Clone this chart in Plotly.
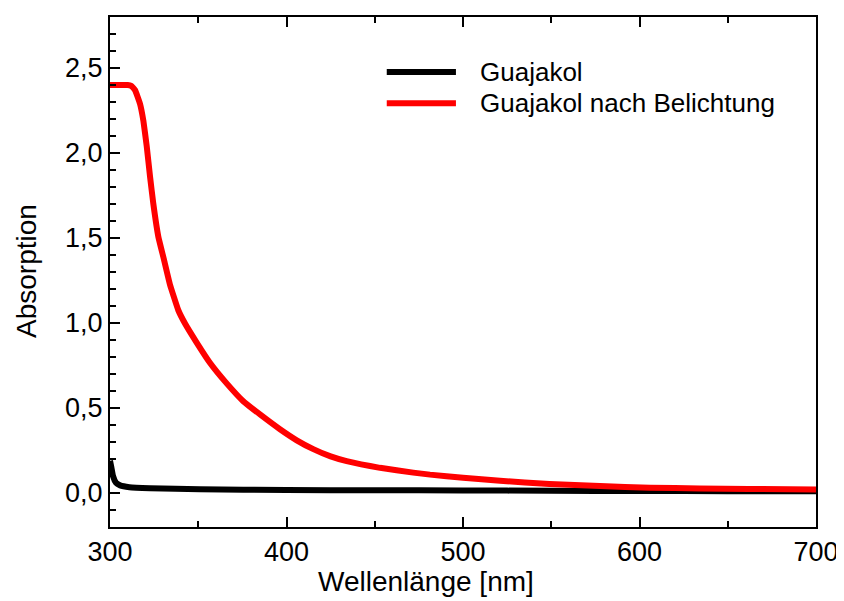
import plotly.graph_objects as go

# Data
wl_red = [300, 305, 310, 312, 314.2, 317, 318.9, 320.8, 322.7, 324.5, 327.4, 330.4, 334, 338.7,
          342.5, 349.1, 356.7, 366.1, 375.5, 385, 396.3, 405.8, 415.2, 425, 434.1, 453, 471.8,
          481.3, 500, 521, 549, 577.6, 606, 634, 662, 700]
abs_red = [2.40, 2.40, 2.40, 2.395, 2.37, 2.29, 2.19, 2.04, 1.86, 1.705, 1.507, 1.38, 1.225, 1.075,
           0.997, 0.885, 0.765, 0.645, 0.54, 0.462, 0.375, 0.31, 0.258, 0.215, 0.187, 0.148, 0.12,
           0.108, 0.09, 0.072, 0.053, 0.041, 0.031, 0.027, 0.024, 0.021]

wl_black = [300, 300.8, 301.7, 303.4, 305.7, 311, 322.7, 351, 400, 450, 500, 550, 600, 650, 700]
abs_black = [0.19, 0.15, 0.10, 0.06, 0.045, 0.034, 0.028, 0.022, 0.018, 0.016, 0.015, 0.013, 0.012, 0.011, 0.010]

names = ["Guajakol", "Guajakol nach Belichtung"]
colors = ["#000000", "#ff0000"]

FONT = "Arial, Liberation Sans, sans-serif"

fig = go.Figure()
fig.add_trace(go.Scatter(x=wl_black, y=abs_black, mode="lines", name=names[0],
                         line=dict(color=colors[0], width=6, shape="spline", smoothing=0.4)))
fig.add_trace(go.Scatter(x=wl_red, y=abs_red, mode="lines", name=names[1],
                         line=dict(color=colors[1], width=6, shape="spline", smoothing=0.3)))

# custom legend (paper coordinates)
leg_y = [0.892, 0.831]
for i in range(2):
    fig.add_shape(type="line", xref="paper", yref="paper", x0=0.392, x1=0.490,
                  y0=leg_y[i], y1=leg_y[i], line=dict(color=colors[i], width=6))
    fig.add_annotation(xref="paper", yref="paper", x=0.521, y=leg_y[i], text=names[i],
                       showarrow=False, xanchor="left", yanchor="middle",
                       font=dict(size=26, color="black", family=FONT))

# axis titles
fig.add_annotation(xref="paper", yref="paper", x=0.448, y=-0.106, text="Wellenlänge [nm]",
                   showarrow=False, xanchor="center", yanchor="middle",
                   font=dict(size=28, color="black", family=FONT))
fig.add_annotation(xref="paper", yref="paper", x=(27 - 110) / 706, y=0.502, text="Absorption",
                   showarrow=False, xanchor="center", yanchor="middle", textangle=-90,
                   font=dict(size=28, color="black", family=FONT))

# page body has an 8px margin, so the figure is offset by (8, 8)
fig.update_layout(
    width=836, height=593,
    margin=dict(l=102, r=28, t=9, b=74),
    paper_bgcolor="white", plot_bgcolor="white",
    showlegend=False,
    separators=",.",
    font=dict(family=FONT, color="black"),
)
fig.update_xaxes(
    range=[300, 700], dtick=100, tick0=300, automargin=False,
    ticks="inside", ticklen=10, tickwidth=2, tickcolor="black",
    minor=dict(dtick=50, ticks="inside", ticklen=6, tickwidth=2, tickcolor="black"),
    showline=True, linewidth=2, linecolor="black", mirror="ticks",
    showgrid=False, zeroline=False,
    tickfont=dict(size=27, family=FONT),
)
fig.update_yaxes(
    range=[-0.2, 2.8], dtick=0.5, tick0=0, tickformat=".1f", automargin=False,
    ticks="inside", ticklen=10, tickwidth=2, tickcolor="black",
    minor=dict(dtick=0.1, ticks="inside", ticklen=6, tickwidth=2, tickcolor="black"),
    showline=True, linewidth=2, linecolor="black", mirror=True,
    showgrid=False, zeroline=False,
    tickfont=dict(size=27, family=FONT),
)

fig.write_html("out.html")
